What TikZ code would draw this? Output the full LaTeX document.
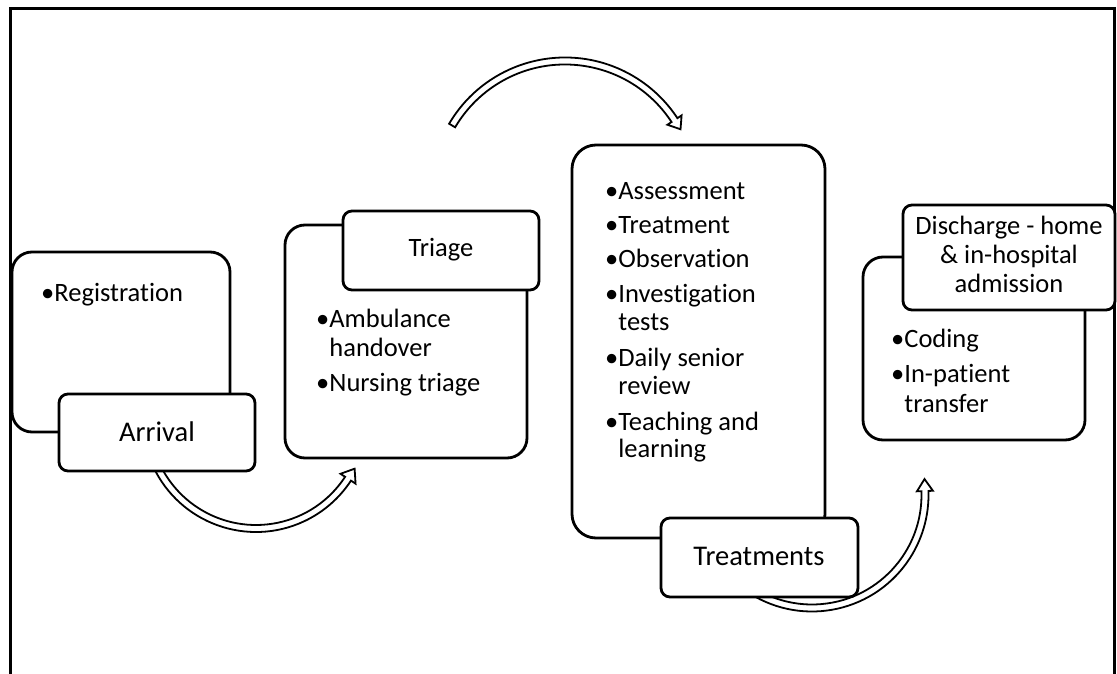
\documentclass[tikz,border=0pt]{standalone}
\usepackage{fontspec}
\setmainfont{Carlito}[Ligatures={NoCommon,NoContextual}]
\usetikzlibrary{calc}
\tikzset{
 bigbox/.style={draw=black, line width=2.8pt, fill=white, rounded corners=20pt, inner sep=0pt, outer sep=0pt},
 smallbox/.style={draw=black, line width=2.8pt, fill=white, rounded corners=9pt, inner sep=0pt, outer sep=0pt},
 blockarrow/.style={draw=black, line width=1.8pt, fill=white, line join=miter},
 listitem/.style={anchor=base west, inner sep=0pt, font=\fontsize{26.5}{29}\selectfont},
 ttl/.style={anchor=base, inner sep=0pt, font=\fontsize{26.5}{29}\selectfont},
 bigttl/.style={anchor=base, inner sep=0pt, font=\fontsize{28.5}{31}\selectfont},
 outerframe/.style={draw=black, line width=3pt}
}
\begin{document}
\begin{tikzpicture}[x=1pt,y=1pt]
\useasboundingbox (0,0) rectangle (1117,673);
% frame
\coordinate (f1) at (10,-5);
\coordinate (f2) at (10,664.5);
\coordinate (f3) at (1114.5,664.5);
\coordinate (f4) at (1114.5,-5);
\draw[outerframe] (f1) -- (f2) -- (f3) -- (f4);

% arrows
\coordinate (c1) at (256,254.5);
\coordinate (c2) at (565,481);
\coordinate (c3) at (812,178);
\draw[blockarrow] ($(c1)+(205:113.5)$) arc[start angle=205, end angle=326.8, radius=113.5]
  -- ($(c1)+(326.8:119)$) -- ($(c1)+(326.8:110)+(56.8:12)$) -- ($(c1)+(326.8:101)$)
  -- ($(c1)+(326.8:106.5)$) arc[start angle=326.8, end angle=205, radius=106.5] -- cycle;
\draw[blockarrow] ($(c2)+(149.5:134.5)$) arc[start angle=149.5, end angle=33.3, radius=134.5]
  -- ($(c2)+(33.3:139.5)$) -- ($(c2)+(33.3:131)+(-56.7:11)$) -- ($(c2)+(33.3:122.5)$)
  -- ($(c2)+(33.3:127.5)$) arc[start angle=33.3, end angle=149.5, radius=127.5] -- cycle;
\draw[blockarrow] ($(c3)+(235:116.5)$) arc[start angle=235, end angle=362, radius=116.5]
  -- ($(c3)+(362:121)$) -- ($(c3)+(362:113)+(92:12)$) -- ($(c3)+(362:105)$)
  -- ($(c3)+(362:109.5)$) arc[start angle=362, end angle=235, radius=109.5] -- cycle;

% big boxes
\node[bigbox, minimum width=218pt, minimum height=180pt] (regbox) at (121,331) {};
\node[bigbox, minimum width=242pt, minimum height=233pt] (triagebig) at (406,331.5) {};
\node[bigbox, rounded corners=24pt, minimum width=253pt, minimum height=393pt] (treatbig) at (698.5,331.5) {};
\node[bigbox, minimum width=222pt, minimum height=183pt] (dischbig) at (974,324.5) {};

% small boxes
\node[smallbox, minimum width=196pt, minimum height=77pt] (arrbox) at (157,240.5) {};
\node[smallbox, minimum width=196pt, minimum height=79pt] (triagesmall) at (441,422.5) {};
\node[smallbox, minimum width=197pt, minimum height=79pt] (treatsmall) at (759.5,115.5) {};
\node[smallbox, minimum width=212pt, minimum height=105pt] (dischsmall) at (1009,415.5) {};

% texts
\node[listitem] (t-reg) at (41,371) {•Registration};
\node[bigttl] (t-arr) at (157,232) {Arrival};

\node[ttl] (t-tri) at (441,416) {Triage};
\node[listitem] (t-amb1) at (316,345) {•Ambulance};
\node[listitem] (t-amb2) at (316,316) {\phantom{•}handover};
\node[listitem] (t-nur) at (316,281) {•Nursing triage};

\node[listitem] (t-as) at (605,473) {•Assessment};
\node[listitem] (t-tr) at (605,439) {•Treatment};
\node[listitem] (t-ob) at (605,405) {•Observation};
\node[listitem] (t-in1) at (605,370) {•Investigation};
\node[listitem] (t-in2) at (605,342) {\phantom{•}tests};
\node[listitem] (t-da1) at (605,306) {•Daily senior};
\node[listitem] (t-da2) at (605,278) {\phantom{•}review};
\node[listitem] (t-te1) at (605,243) {•Teaching and};
\node[listitem] (t-te2) at (605,216) {\phantom{•}learning};
\node[bigttl] (t-treat) at (759,108) {Treatments};

\node[ttl] (t-d1) at (1009,438) {Discharge - home};
\node[ttl] (t-d2) at (1009,409) {\& in-hospital};
\node[ttl] (t-d3) at (1009,380) {admission};
\node[listitem] (t-cod) at (891,325) {•Coding};
\node[listitem] (t-inp1) at (891,290) {•In-patient};
\node[listitem] (t-inp2) at (891,261) {\phantom{•}transfer};
\end{tikzpicture}
\end{document}
